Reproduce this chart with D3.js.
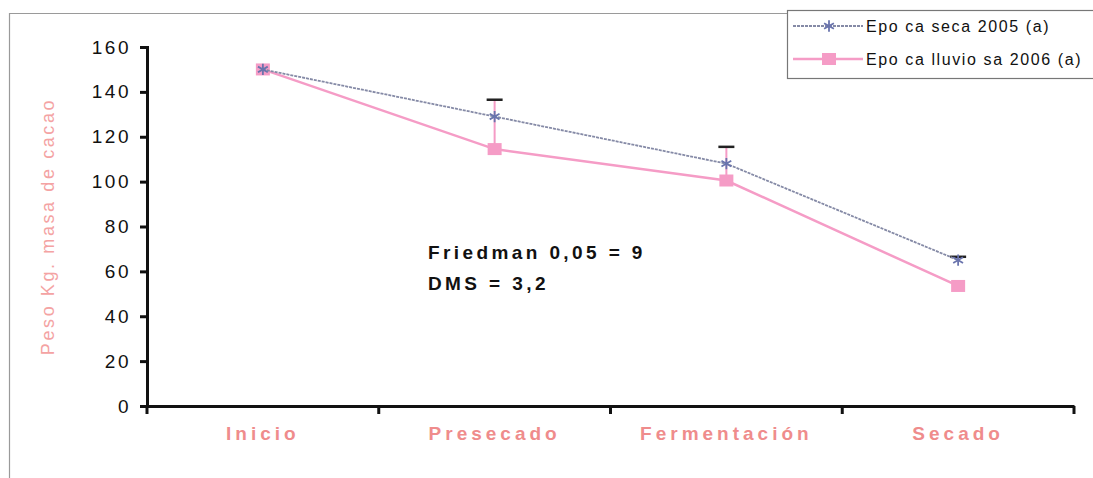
<!DOCTYPE html>
<html>
<head>
<meta charset="utf-8">
<script src="https://cdn.jsdelivr.net/npm/d3@7"></script>
<style>
  body { margin: 0; background: #fff; }
  svg { display: block; font-family: Arial, "Liberation Sans", sans-serif; }
</style>
</head>
<body>
<div id="chart"></div>
<script>
// data
var categories = ['Inicio', 'Presecado', 'Fermentación', 'Secado'];
var seca = [150, 129, 108, 65];
var lluviosa = [150, 114.5, 100.5, 53.5];
var errTop = [null, 136.5, 115.5, 66.5];
var errBottom = [null, 114.5, 100.5, 65];
var yTicks = [0, 20, 40, 60, 80, 100, 120, 140, 160];
var seriesNames = ['Epo ca seca 2005 (a)', 'Epo ca lluvio sa 2006 (a)'];

var W = 1093, H = 478;
var m = { left: 147, right: 1074, top: 47, bottom: 406 };
var PINK = '#f59cc6', SECA = '#858aa6', LABEL = '#ef8c8c';

var svg = d3.select('#chart').append('svg').attr('width', W).attr('height', H);

// outer chart frame (right side cut off)
svg.append('path').attr('d', 'M9.5,' + H + 'V13.5H' + W)
  .attr('fill', 'none').attr('stroke', '#9a9a9a').attr('stroke-width', 1.2);

var x = d3.scaleBand().domain(categories).range([m.left, m.right]);
var y = d3.scaleLinear().domain([0, 160]).range([m.bottom, m.top]);

// axes
var yAxis = svg.append('g').attr('transform', 'translate(' + m.left + ',0)')
  .call(d3.axisLeft(y).tickValues(yTicks).tickSize(7).tickPadding(9));
yAxis.select('.domain').attr('stroke', '#111').attr('stroke-width', 3);
yAxis.selectAll('.tick line').attr('stroke', '#111').attr('stroke-width', 3);
yAxis.selectAll('.tick text').attr('fill', '#111').attr('font-size', '19px')
  .attr('letter-spacing', '2.5px');

var xAxis = svg.append('g').attr('transform', 'translate(0,' + m.bottom + ')')
  .call(d3.axisBottom(x).tickSize(0).tickPadding(21));
xAxis.select('.domain').attr('stroke', '#111').attr('stroke-width', 3);
xAxis.selectAll('.tick text').attr('fill', LABEL).attr('font-size', '19px')
  .attr('font-weight', 'bold').attr('letter-spacing', '4px');
// tick marks at band boundaries
var bounds = categories.map(function(c) { return x(c); }).concat([m.right]);
svg.append('g').selectAll('line').data(bounds).join('line')
  .attr('x1', function(d) { return d; }).attr('x2', function(d) { return d; })
  .attr('y1', m.bottom).attr('y2', m.bottom + 8)
  .attr('stroke', '#111').attr('stroke-width', 3);

// y title
svg.append('text').attr('transform', 'translate(54,' + ((m.top + m.bottom) / 2) + ') rotate(-90)')
  .attr('text-anchor', 'middle').attr('fill', '#f4a3a3').attr('font-size', '18px')
  .attr('letter-spacing', '2.6px')
  .text('Peso Kg. masa de cacao');

var cx = function(i) { return x(categories[i]) + x.bandwidth() / 2; };

// error bars
var errIdx = d3.range(categories.length).filter(function(i) { return errTop[i] != null; });
svg.append('g').selectAll('line').data(errIdx).join('line')
  .attr('x1', cx).attr('x2', cx)
  .attr('y1', function(i) { return y(errBottom[i]); })
  .attr('y2', function(i) { return y(errTop[i]); })
  .attr('stroke', PINK).attr('stroke-width', 2);
svg.append('g').selectAll('line').data(errIdx).join('line')
  .attr('x1', function(i) { return cx(i) - 8; }).attr('x2', function(i) { return cx(i) + 8; })
  .attr('y1', function(i) { return y(errTop[i]); })
  .attr('y2', function(i) { return y(errTop[i]); })
  .attr('stroke', '#222').attr('stroke-width', 2.5);

var line = d3.line().x(function(d, i) { return cx(i); }).y(function(d) { return y(d); });

// lluviosa series
svg.append('path').datum(lluviosa).attr('d', line)
  .attr('fill', 'none').attr('stroke', PINK).attr('stroke-width', 2.5);
svg.append('g').selectAll('rect').data(lluviosa).join('rect')
  .attr('x', function(d, i) { return cx(i) - 7; }).attr('y', function(d) { return y(d) - 6; })
  .attr('width', 14).attr('height', 12).attr('fill', PINK);

// seca series
svg.append('path').datum(seca).attr('d', line)
  .attr('fill', 'none').attr('stroke', SECA).attr('stroke-width', 1.8)
  .attr('stroke-dasharray', '3,1');
var star = d3.symbol().type(d3.symbolAsterisk || d3.symbolCross).size(90);
svg.append('g').selectAll('path').data(seca).join('path')
  .attr('transform', function(d, i) { return 'translate(' + cx(i) + ',' + y(d) + ')'; })
  .attr('d', star).attr('fill', 'none').attr('stroke', '#6a74ad').attr('stroke-width', 1.8);

// annotation
svg.append('text').attr('x', 428).attr('y', 259).attr('font-size', '19px')
  .attr('font-weight', 'bold').attr('letter-spacing', '3.4px').attr('fill', '#111')
  .text('Friedman 0,05 = 9');
svg.append('text').attr('x', 428).attr('y', 290).attr('font-size', '19px')
  .attr('font-weight', 'bold').attr('letter-spacing', '3.4px').attr('fill', '#111')
  .text('DMS = 3,2');

// legend
var lg = svg.append('g').attr('transform', 'translate(787,10)');
lg.append('rect').attr('x', 0.5).attr('y', 0.5).attr('width', 320).attr('height', 68)
  .attr('fill', '#fff').attr('stroke', '#777').attr('stroke-width', 1.2);
lg.append('line').attr('x1', 6).attr('x2', 76).attr('y1', 16).attr('y2', 16)
  .attr('stroke', SECA).attr('stroke-width', 1.8).attr('stroke-dasharray', '3,1');
lg.append('path').attr('transform', 'translate(42,16)').attr('d', star)
  .attr('fill', 'none').attr('stroke', '#6a74ad').attr('stroke-width', 1.8);
lg.append('line').attr('x1', 6).attr('x2', 76).attr('y1', 49).attr('y2', 49)
  .attr('stroke', PINK).attr('stroke-width', 2.5);
lg.append('rect').attr('x', 35).attr('y', 43).attr('width', 14).attr('height', 12).attr('fill', PINK);
lg.selectAll('text.lbl').data(seriesNames).join('text').attr('class', 'lbl')
  .attr('x', 79).attr('y', function(d, i) { return 22 + i * 33; })
  .attr('font-size', '16px').attr('letter-spacing', '1.6px').attr('fill', '#111')
  .text(function(d) { return d; });
</script>
</body>
</html>
